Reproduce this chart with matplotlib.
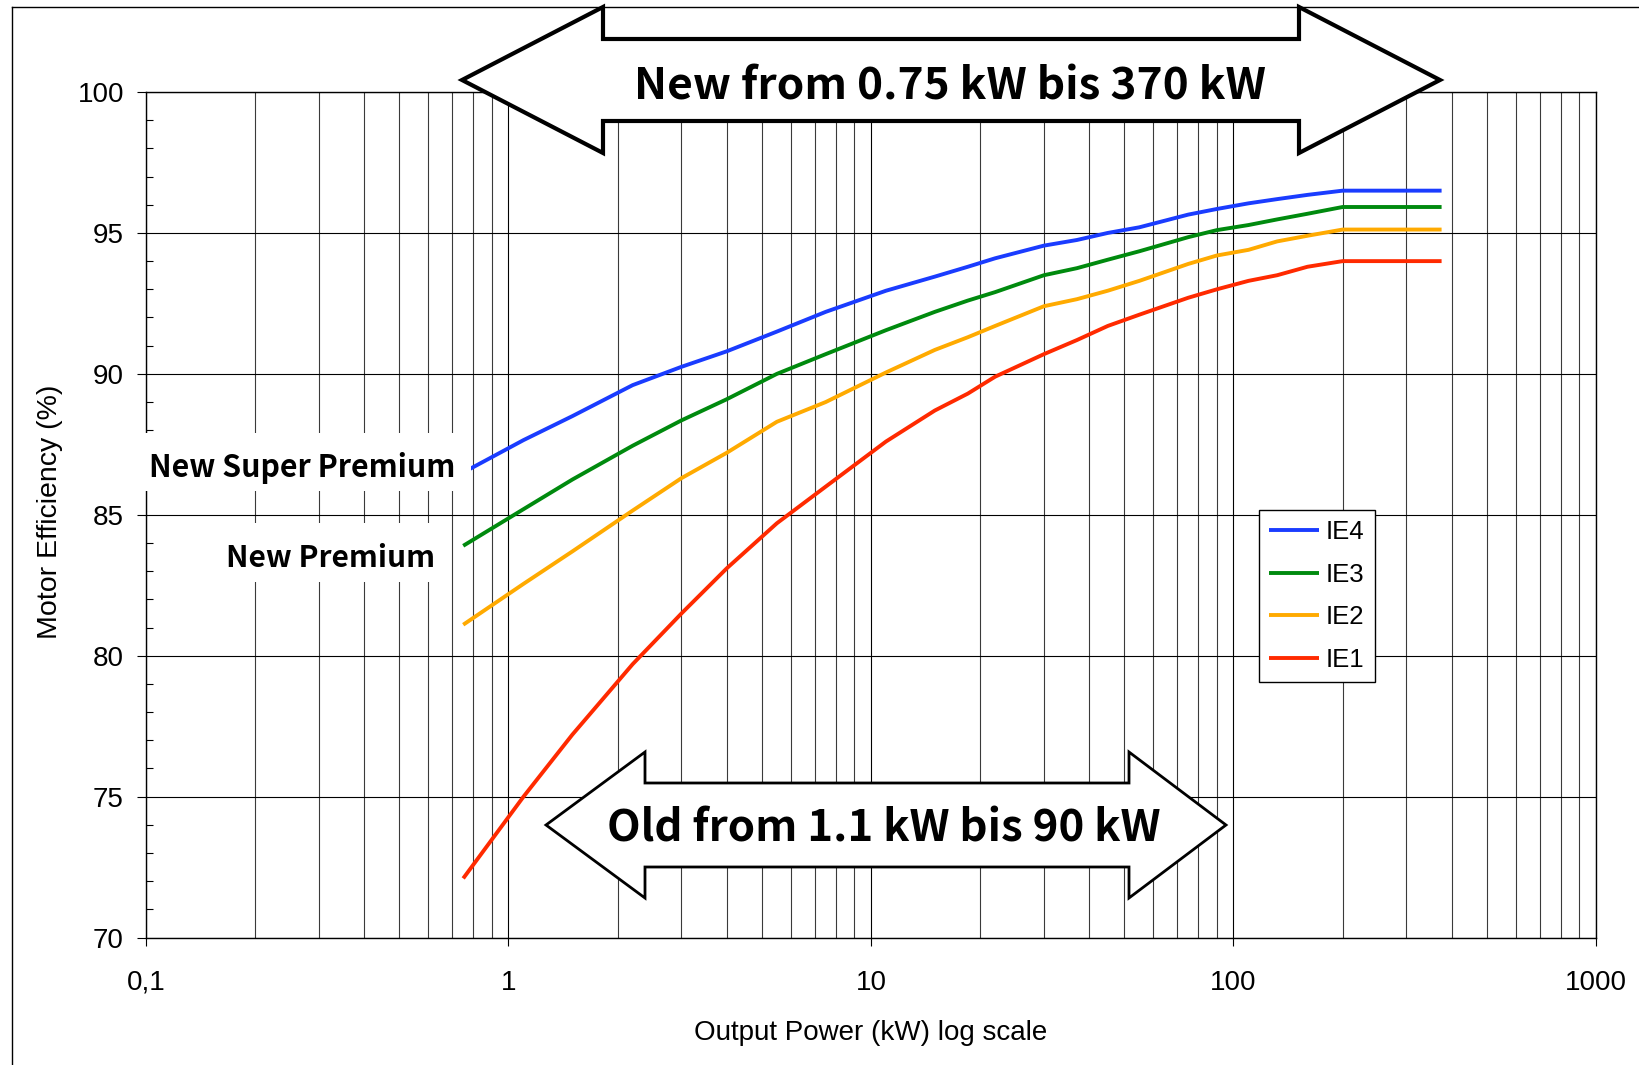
import matplotlib

matplotlib.use("Agg")
import matplotlib.pyplot as plt
from matplotlib.lines import Line2D
from matplotlib.patches import Polygon, Rectangle
from matplotlib.ticker import LogLocator, MultipleLocator, NullFormatter

plt.rcParams["font.family"] = ["Liberation Sans", "DejaVu Sans"]

W, H = 1639, 1065

# --- data ---
power_kw = [0.75, 1.1, 1.5, 2.2, 3, 4, 5.5, 7.5, 11, 15, 18.5, 22, 30, 37, 45,
            55, 75, 90, 110, 132, 160, 200, 375]
ie4 = [86.5, 87.65, 88.5, 89.6, 90.25, 90.8, 91.5, 92.2, 92.95, 93.45, 93.8, 94.1,
       94.55, 94.75, 95.0, 95.2, 95.65, 95.85, 96.05, 96.2, 96.35, 96.5, 96.5]
ie3 = [83.9, 85.2, 86.25, 87.45, 88.35, 89.1, 90.0, 90.7, 91.55, 92.2, 92.6, 92.9,
       93.5, 93.75, 94.05, 94.35, 94.85, 95.1, 95.28, 95.48, 95.68, 95.92, 95.92]
ie2 = [81.1, 82.55, 83.7, 85.15, 86.3, 87.2, 88.3, 89.0, 90.05, 90.85, 91.3, 91.7,
       92.4, 92.65, 92.95, 93.3, 93.9, 94.2, 94.4, 94.7, 94.9, 95.12, 95.12]
ie1 = [72.1, 75.0, 77.2, 79.7, 81.5, 83.1, 84.7, 86.0, 87.6, 88.7, 89.3, 89.9,
       90.7, 91.2, 91.7, 92.1, 92.7, 93.0, 93.3, 93.5, 93.8, 94.0, 94.0]

series_names = ["IE4", "IE3", "IE2", "IE1"]
series_values = [ie4, ie3, ie2, ie1]
series_colors = ["#1a3cff", "#008a0e", "#ffaa00", "#ff2a00"]

x_ticks = [0.1, 1, 10, 100, 1000]
x_tick_labels = ["0,1", "1", "10", "100", "1000"]
y_ticks = [70, 75, 80, 85, 90, 95, 100]


def fx(x):
    return x / W


def fy(y):
    return 1 - y / H


def block_arrow(fig, x_tip_l, x_base_l, x_base_r, x_tip_r, y_mid, shaft_half, head_half, lw):
    pts = [
        (x_tip_l, y_mid),
        (x_base_l, y_mid - head_half),
        (x_base_l, y_mid - shaft_half),
        (x_base_r, y_mid - shaft_half),
        (x_base_r, y_mid - head_half),
        (x_tip_r, y_mid),
        (x_base_r, y_mid + head_half),
        (x_base_r, y_mid + shaft_half),
        (x_base_l, y_mid + shaft_half),
        (x_base_l, y_mid + head_half),
    ]
    poly = Polygon([(fx(a), fy(b)) for a, b in pts], closed=True, transform=fig.transFigure,
                   facecolor="white", edgecolor="black", lw=lw, joinstyle="miter", zorder=2)
    fig.add_artist(poly)


fig = plt.figure(figsize=(W / 100, H / 100), dpi=100)
ax = fig.add_axes([fx(146), fy(937.6), (1596 - 146) / W, (937.6 - 92) / H])

for name, vals, col in zip(series_names, series_values, series_colors):
    ax.plot(power_kw, vals, color=col, lw=2.8, label=name, solid_capstyle="butt")

ax.set_xscale("log")
ax.set_xlim(0.1, 1000)
ax.set_ylim(70, 100)
ax.set_xticks(x_ticks, x_tick_labels)
ax.xaxis.set_minor_locator(LogLocator(base=10, subs=range(2, 10), numticks=20))
ax.xaxis.set_minor_formatter(NullFormatter())
ax.set_yticks(y_ticks)
ax.yaxis.set_minor_locator(MultipleLocator(1))

ax.grid(True, which="major", color="black", lw=0.8)
ax.grid(True, which="minor", axis="x", color="#3a3a3a", lw=0.8)
ax.set_axisbelow(True)

ax.tick_params(axis="y", which="major", direction="out", length=6.5, width=0.8, pad=9.4, labelsize=20)
ax.tick_params(axis="y", which="minor", direction="in", length=4.8, width=0.8)
ax.tick_params(axis="x", which="major", direction="out", length=6, width=0.8, pad=17, labelsize=20)
ax.tick_params(axis="x", which="minor", length=0)
for sp in ax.spines.values():
    sp.set_color("black")
    sp.set_linewidth(1)

ax.set_xlabel("Output Power (kW) log scale", fontsize=20)
ax.xaxis.label.set_verticalalignment("baseline")
ax.xaxis.set_label_coords(0.5, (937.6 - 1040) / 845.6)
ax.set_ylabel("Motor Efficiency (%)", fontsize=20.5)
ax.yaxis.label.set_verticalalignment("baseline")
ax.yaxis.set_label_coords((56.7 - 146) / 1450, (937.6 - 512) / 845.6)

leg = ax.legend(loc="upper left", bbox_to_anchor=(fx(1259), fy(510)), bbox_transform=fig.transFigure,
                borderaxespad=0, fontsize=18.5, handlelength=1.95, handletextpad=0.25,
                borderpad=0.4, labelspacing=0.72, fancybox=False, framealpha=1)
leg.get_frame().set_edgecolor("black")
leg.get_frame().set_linewidth(1)

# outer frame of the picture
fig.add_artist(Line2D([fx(12), 1], [fy(7), fy(7)], color="black", lw=1, transform=fig.transFigure))
fig.add_artist(Line2D([fx(12), fx(12)], [fy(7), 0], color="black", lw=1, transform=fig.transFigure))

# white boxes behind the class labels
for x0, y0, x1, y1 in [(138, 433, 471, 491), (212, 523, 443, 582)]:
    fig.add_artist(Rectangle((fx(x0), fy(y1)), fx(x1 - x0), (y1 - y0) / H, transform=fig.transFigure,
                             facecolor="white", edgecolor="none", zorder=2))

block_arrow(fig, 462, 603, 1299, 1440, 80, 41, 73, 3)
block_arrow(fig, 546, 645, 1129, 1226, 825, 42, 73, 2)

bold_font = dict(family=["Noto Sans CJK JP", "DejaVu Sans"], weight="bold", ha="center",
                 va="baseline", zorder=3)
fig.text(fx(949.5), fy(100), "New from 0.75 kW bis 370 kW", fontsize=31.8, **bold_font)
fig.text(fx(884), fy(842), "Old from 1.1 kW bis 90 kW", fontsize=31.5, **bold_font)
fig.text(fx(302), fy(477), "New Super Premium", fontsize=21.8, **bold_font)
fig.text(fx(330.4), fy(567), "New Premium", fontsize=21.6, **bold_font)

fig.savefig("out.png", dpi=100)
